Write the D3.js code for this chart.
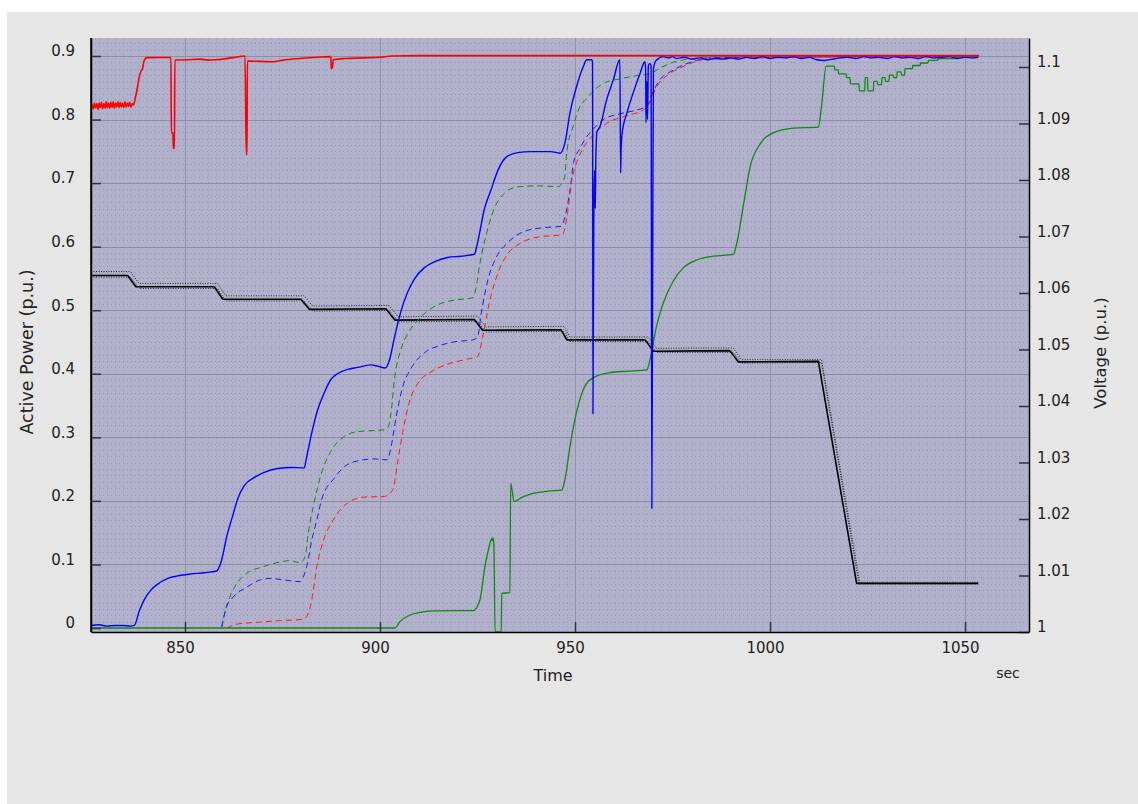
<!DOCTYPE html>
<html>
<head>
<meta charset="utf-8">
<script src="https://cdn.jsdelivr.net/npm/d3@7"></script>
<style>
  html, body { margin: 0; padding: 0; background: #ffffff; }
  svg { display: block; }
  text { font-family: "DejaVu Sans", Verdana, sans-serif; fill: #222; }
</style>
</head>
<body>
<svg id="chart" width="1138" height="804"></svg>
<script>
// ---- tick values ----
const timeTicks = [850, 900, 950, 1000, 1050];
const powerTicks = [0, 0.1, 0.2, 0.3, 0.4, 0.5, 0.6, 0.7, 0.8, 0.9];
const voltTicks = [1, 1.01, 1.02, 1.03, 1.04, 1.05, 1.06, 1.07, 1.08, 1.09, 1.1];

// ---- active power series [time (s), P (p.u.)] ----
const redSolid = [
  [825.9,0.815],[826.2,0.824],[826.5,0.817],[826.8,0.826],[827.1,0.818],[827.4,0.825],[827.7,0.816],
  [828.0,0.826],[828.3,0.819],[828.6,0.827],[828.9,0.817],[829.2,0.825],[829.5,0.818],[829.8,0.828],
  [830.1,0.819],[830.4,0.826],[830.7,0.818],[831.0,0.827],[831.3,0.819],[831.6,0.828],[831.9,0.818],
  [832.2,0.826],[832.5,0.820],[832.8,0.828],[833.1,0.819],[833.4,0.827],[833.7,0.820],[834.0,0.826],
  [834.3,0.819],[834.6,0.828],[834.9,0.820],[835.2,0.826],[835.5,0.821],[835.8,0.827],[836.1,0.820],
  [836.5,0.825],[836.8,0.823],[837.3,0.835],[837.8,0.850],[838.2,0.865],[838.7,0.876],[839.1,0.880],
  [839.5,0.892],[840.2,0.8974],[843.0,0.8975],[846.4,0.8976],[846.5,0.779],[846.9,0.779],[847.0,0.755],
  [847.3,0.755],[847.4,0.8937],[850,0.8937],[853.8,0.895],[856,0.8935],[858,0.894],[862.3,0.8974],
  [865.4,0.900],[865.7,0.745],[865.9,0.745],[866.0,0.892],[872.6,0.891],[875.2,0.8935],[879.5,0.896],
  [884,0.898],[887.4,0.899],[887.5,0.880],[887.8,0.882],[888.0,0.894],[891,0.896],[896,0.897],
  [900,0.898],[903,0.900],[910,0.9005],[930,0.9006],[960,0.9006],[1000,0.9005],[1053.6,0.9006]
];

const blueSolid = [
  [825.9,0.004],[828,0.005],[830,0.003],[832,0.004],[834,0.004],[836,0.003],[837.0,0.004],
  [838.3,0.027],[839.6,0.045],[841.3,0.060],[843.0,0.069],[845.6,0.078],[848.1,0.082],[851.5,0.085],
  [855,0.087],[858.1,0.0897],[859.4,0.107],[860.7,0.1437],[862.4,0.180],[863.5,0.203],[865.2,0.224],
  [867.8,0.237],[870.3,0.245],[873.8,0.251],[877.2,0.2526],[880.6,0.252],[881.0,0.263],[882.3,0.3016],
  [884.0,0.343],[885.7,0.370],[887.4,0.391],[889.1,0.400],[891.7,0.407],[894.3,0.410],[897.7,0.414],
  [899.4,0.412],[901.3,0.409],[902.4,0.421],[903.7,0.457],[905.4,0.499],[907.1,0.5285],[908.8,0.549],
  [911.4,0.567],[913.9,0.576],[917.3,0.583],[920.8,0.585],[924.2,0.588],[925.0,0.606],[926.8,0.660],
  [928.5,0.690],[930.2,0.7196],[932.3,0.7405],[935.3,0.748],[938.7,0.7495],[943.8,0.7495],[946.2,0.747],
  [947.4,0.763],[948.7,0.810],[950.4,0.852],[952.1,0.883],[953.0,0.894],[954.3,0.894],[954.5,0.89],
  [954.6,0.337],[954.8,0.62],[955.0,0.72],[955.2,0.66],[955.3,0.72],[955.6,0.78],[956.4,0.789],
  [958.1,0.831],[959.8,0.862],[961.5,0.894],[961.7,0.716],[961.8,0.75],[962.1,0.78],[963.3,0.810],
  [964.9,0.842],[966.7,0.873],[967.9,0.891],[968.1,0.88],[968.2,0.795],[968.4,0.86],[968.6,0.80],
  [968.8,0.885],[969.2,0.888],[969.5,0.885],[969.7,0.188],[969.9,0.55],[970.1,0.88],[970.8,0.893],
  [972.6,0.899],[974,0.897],[975,0.899],[976,0.896],[978,0.898],[980,0.895],[982,0.897],[984,0.894],
  [986,0.896],[988,0.895],[990,0.897],[992,0.895],[994,0.898],[996,0.896],[998,0.899],[1000,0.896],
  [1002,0.898],[1004,0.897],[1006,0.899],[1008,0.896],[1010,0.898],[1012,0.894],[1014,0.893],
  [1016,0.895],[1018,0.897],[1020,0.898],[1022,0.896],[1024,0.899],[1026,0.897],[1028,0.898],
  [1030,0.896],[1032,0.899],[1034,0.897],[1036,0.898],[1038,0.896],[1040,0.899],[1042,0.897],
  [1044,0.898],[1046,0.899],[1048,0.896],[1050,0.898],[1052,0.897],[1053.4,0.898]
];

const greenSolid = [
  [825.9,0.0],[903.8,0.0],[905.1,0.010],[907.7,0.0205],[910.3,0.0247],[913.7,0.0268],[918,0.0272],
  [923.9,0.0273],[925.6,0.044],[926.9,0.0965],[928.2,0.133],[928.6,0.141],[928.8,0.137],[929.0,0.142],
  [929.2,0.130],[929.5,-0.006],[931.1,-0.006],[931.2,0.0546],[933.3,0.0556],[933.5,0.2277],[934.4,0.199],
  [936.5,0.206],[939.3,0.212],[943.6,0.2156],[946.6,0.217],[947.4,0.233],[948.7,0.285],[950.4,0.34],
  [952.1,0.375],[954.7,0.394],[959.0,0.402],[963.2,0.404],[968.4,0.406],[969.2,0.421],[970.9,0.475],
  [972.6,0.511],[975.2,0.546],[977.8,0.567],[981.2,0.579],[985.5,0.585],[990.6,0.588],[991.5,0.606],
  [993.2,0.666],[994.9,0.7256],[997.4,0.761],[1000.8,0.779],[1006.0,0.7865],[1012.4,0.788],[1013.2,0.821],
  [1014.4,0.884],[1016.5,0.884],[1016.6,0.878],[1017.5,0.878],[1017.6,0.872],[1019.5,0.872],[1019.6,0.866],
  [1020.5,0.866],[1020.6,0.856],[1022.8,0.856],[1022.9,0.845],[1024.3,0.845],[1024.4,0.866],[1025.0,0.866],
  [1025.1,0.845],[1026.5,0.845],[1026.6,0.860],[1027.5,0.860],[1027.6,0.855],[1028.6,0.855],[1028.7,0.866],
  [1029.5,0.866],[1029.6,0.860],[1030.5,0.860],[1030.6,0.870],[1031.6,0.870],[1031.7,0.866],[1032.5,0.866],
  [1032.6,0.875],[1033.6,0.875],[1033.7,0.870],[1034.5,0.870],[1034.6,0.880],[1036.5,0.880],[1036.6,0.885],
  [1038.5,0.885],[1038.6,0.889],[1040.5,0.889],[1040.6,0.893],[1043,0.893],[1043.1,0.896],[1047,0.896],
  [1047.1,0.898],[1053.4,0.899]
];

const greenDashed = [
  [859.4,0.0],[860.4,0.030],[861.5,0.049],[863.3,0.070],[865.8,0.086],[870.1,0.0965],[874.4,0.104],
  [876.9,0.106],[879.5,0.1027],[880.8,0.112],[881.6,0.149],[882.9,0.191],[884.9,0.242],[887.4,0.278],
  [890.9,0.3016],[894.3,0.309],[901.1,0.312],[902.0,0.315],[902.8,0.337],[903.7,0.391],[905.4,0.439],
  [907.1,0.463],[909.2,0.481],[912.2,0.4987],[915.6,0.5106],[919.9,0.5166],[923.8,0.5196],[924.6,0.5345],
  [925.5,0.570],[927.2,0.618],[929.3,0.660],[931.9,0.684],[935.3,0.694],[940.4,0.6957],[945.6,0.6945],
  [947.3,0.708],[947.9,0.749],[949.6,0.791],[951.3,0.821],[953.0,0.833],[954.7,0.845],[957.3,0.857],
  [961.5,0.864],[965.8,0.869],[969.2,0.872],[971.8,0.881],[975.2,0.890],[980.3,0.896],[985,0.8985],
  [1053.4,0.8995]
];

const blueDashed = [
  [859.4,0.002],[860.7,0.0335],[862.4,0.049],[865.8,0.064],[869.2,0.0755],[871.8,0.078],[875.5,0.0755],
  [879.5,0.073],[880.3,0.080],[881.2,0.0965],[882.5,0.138],[883.8,0.170],[885.0,0.2014],[888.3,0.236],
  [890.9,0.254],[894.3,0.263],[898.5,0.266],[901.9,0.2645],[902.8,0.284],[904.1,0.331],[905.8,0.379],
  [908.0,0.409],[911.4,0.433],[915.6,0.445],[919.9,0.451],[923.3,0.4527],[925.0,0.457],[925.9,0.493],
  [927.6,0.546],[929.7,0.582],[932.7,0.606],[937.0,0.624],[942.1,0.630],[946.4,0.632],[947.7,0.654],
  [949.0,0.702],[949.6,0.732],[951.3,0.755],[953.0,0.773],[954.7,0.785],[957.3,0.800],[961.5,0.809],
  [965.8,0.815],[968.4,0.821],[970.1,0.845],[971.8,0.863],[974.4,0.875],[977.8,0.886],[981.2,0.893],
  [985.5,0.8976],[1053.4,0.899]
];

const redDashed = [
  [860.7,0.0],[863.3,0.006],[868.6,0.009],[874.4,0.0115],[880.3,0.0137],[881.2,0.018],[882.5,0.044],
  [883.8,0.0965],[885.5,0.138],[888.0,0.170],[891.5,0.196],[896.0,0.206],[901.1,0.207],[903.3,0.218],
  [904.5,0.26],[905.8,0.3075],[907.5,0.355],[909.7,0.385],[913.1,0.403],[917.3,0.415],[921.6,0.422],
  [925.0,0.427],[926.3,0.457],[928.0,0.511],[930.2,0.558],[932.7,0.588],[936.2,0.606],[940.4,0.615],
  [946.8,0.619],[948.1,0.654],[949.1,0.702],[950.4,0.732],[952.1,0.755],[954.7,0.776],[958.1,0.794],
  [963.2,0.806],[967.5,0.815],[969.2,0.827],[970.9,0.851],[973.5,0.869],[976.9,0.881],[980.3,0.890],
  [984.6,0.896],[1053.4,0.8995]
];

// ---- voltage series [time (s), V (p.u.)] ----
const voltage = [
  [825.9,1.0631],[835.3,1.0631],[837.4,1.0611],[857.5,1.0611],[859.7,1.0589],[879.7,1.0589],
  [881.9,1.0571],[901.5,1.0572],[903.8,1.0552],[924.2,1.0553],[926.3,1.0534],[946.4,1.0535],
  [947.9,1.0517],[968.0,1.0517],[970.1,1.0497],[989.7,1.0498],[991.9,1.0478],[1012.4,1.0479],
  [1022.2,1.0086],[1053.4,1.0086]
];
const voltageUpper = [
  [825.9,1.0638],[836.0,1.0638],[838.2,1.0617],[858.3,1.0617],[860.5,1.0595],[880.5,1.0595],
  [882.7,1.0577],[902.3,1.0578],[904.6,1.0558],[925.0,1.0559],[927.1,1.0540],[947.2,1.0541],
  [948.7,1.0522],[968.8,1.0522],[970.9,1.0502],[990.5,1.0503],[992.7,1.0482],[1013.2,1.0482],
  [1023.0,1.0088],[1053.4,1.0088]
];
const voltageLower = [
  [825.9,1.0628],[836.0,1.0628],[838.2,1.0608],[858.3,1.0608],[860.5,1.0586],[880.5,1.0586],
  [882.7,1.0568],[902.3,1.0569],[904.6,1.0549],[925.0,1.0550],[927.1,1.0531],[947.2,1.0532],
  [948.7,1.0514],[968.8,1.0514],[970.9,1.0495],[990.5,1.0495],[992.7,1.0476],[1013.2,1.0477],
  [1022.8,1.0085],[1053.4,1.0085]
];

// ---- layout ----
const svg = d3.select("#chart");
const plot = { left: 91, right: 1029, top: 38, bottom: 632 };

svg.append("rect").attr("x", 7).attr("y", 12).attr("width", 1131).attr("height", 792).attr("fill", "#e6e6e6");

const x = d3.scaleLinear().domain([825.9, 1066.4]).range([plot.left, plot.right]);
const yP = d3.scaleLinear().domain([-0.0063, 0.9283]).range([plot.bottom, plot.top]);
const yV = d3.scaleLinear().domain([1.0, 1.10513]).range([plot.bottom, plot.top]);

svg.append("rect")
  .attr("x", plot.left).attr("y", plot.top)
  .attr("width", plot.right - plot.left).attr("height", plot.bottom - plot.top)
  .attr("fill", "#b1b1cb");

// fine dotted grid
const grid = svg.append("g").attr("class", "grid");
const minorP = d3.range(1, 93).map(i => i / 100).filter(v => Math.round(v * 100) % 10 !== 0);
grid.selectAll("line.minor-h").data(minorP).join("line")
  .attr("x1", plot.left).attr("x2", plot.right)
  .attr("y1", d => Math.round(yP(d)) + 0.5).attr("y2", d => Math.round(yP(d)) + 0.5)
  .attr("stroke", "#9595b3").attr("stroke-width", 1).attr("stroke-dasharray", "1,3");
const minorT = d3.range(828, 1066, 2).filter(t => t % 50 !== 0);
grid.selectAll("line.minor-v").data(minorT).join("line")
  .attr("y1", plot.top).attr("y2", plot.bottom)
  .attr("x1", d => Math.round(x(d)) + 0.5).attr("x2", d => Math.round(x(d)) + 0.5)
  .attr("stroke", "#9b9bb8").attr("stroke-width", 1).attr("stroke-dasharray", "1,3");

// major grid
grid.selectAll("line.major-h").data(powerTicks.filter(v => v > 0)).join("line")
  .attr("x1", plot.left).attr("x2", plot.right)
  .attr("y1", d => Math.round(yP(d)) + 0.5).attr("y2", d => Math.round(yP(d)) + 0.5)
  .attr("stroke", "#8c8ca6").attr("stroke-width", 1);
grid.selectAll("line.major-v").data(timeTicks).join("line")
  .attr("y1", plot.top).attr("y2", plot.bottom)
  .attr("x1", d => Math.round(x(d)) + 0.5).attr("x2", d => Math.round(x(d)) + 0.5)
  .attr("stroke", "#9292ac").attr("stroke-width", 1);

// ---- series ----
svg.append("clipPath").attr("id", "plotclip")
  .append("rect").attr("x", plot.left).attr("y", plot.top)
  .attr("width", plot.right - plot.left).attr("height", plot.bottom - plot.top);
const lines = svg.append("g").attr("clip-path", "url(#plotclip)");

const lineP = d3.line().x(d => x(d[0])).y(d => yP(d[1])).curve(d3.curveMonotoneX);
const lineV = d3.line().x(d => x(d[0])).y(d => yV(d[1]));

function draw(data, gen, color, width, dash) {
  lines.append("path").datum(data)
    .attr("d", gen).attr("fill", "none")
    .attr("stroke", color).attr("stroke-width", width)
    .attr("stroke-linejoin", "round")
    .attr("stroke-dasharray", dash || null);
}

draw(voltageUpper, lineV, "#1a1a1a", 0.9, "1,1.5");
draw(voltageLower, lineV, "#1a1a1a", 0.9, "1,1.5");
draw(voltage, lineV, "#000000", 1.6);
draw(greenDashed, lineP, "#0f8a0f", 1, "6,4");
draw(blueDashed, lineP, "#1a1aff", 1, "6,4");
draw(redDashed, lineP, "#ff1a1a", 1, "6,4");
draw(greenSolid, lineP, "#0f8a0f", 1.3);
draw(blueSolid, lineP, "#0000ff", 1.4);
draw(redSolid, lineP, "#ff0000", 1.6);

// ---- axes ----
const fmtT = d3.format("d");
const fmtP = d3.format(".1~f");
const fmtV = d3.format(".2~f");

const axLeft = svg.append("g").attr("transform", `translate(${plot.left},0)`)
  .call(d3.axisLeft(yP).tickValues(powerTicks).tickFormat(fmtP).tickSizeInner(-10).tickSizeOuter(0).tickPadding(16));
const axRight = svg.append("g").attr("transform", `translate(${plot.right},0)`)
  .call(d3.axisRight(yV).tickValues(voltTicks).tickFormat(fmtV).tickSizeInner(-10).tickSizeOuter(0).tickPadding(8));
const axBottom = svg.append("g").attr("transform", `translate(0,${plot.bottom})`)
  .call(d3.axisBottom(x).tickValues(timeTicks).tickFormat(fmtT).tickSizeInner(-10).tickSizeOuter(0).tickPadding(10));

[axLeft, axRight, axBottom].forEach(ax => {
  ax.select(".domain").attr("stroke", "#000").attr("stroke-width", 1.5);
  ax.selectAll(".tick line").attr("stroke", "#333").attr("stroke-width", 1.5);
  ax.selectAll(".tick text").attr("font-size", 15).attr("fill", "#222")
    .style("font-family", "'DejaVu Sans', Verdana, sans-serif");
});
axLeft.selectAll(".tick text").attr("y", -5);
axRight.selectAll(".tick text").attr("y", -5);
axBottom.selectAll(".tick text").attr("x", -5);
svg.append("line").attr("x1", plot.left).attr("x2", plot.left).attr("y1", plot.top).attr("y2", plot.bottom)
  .attr("stroke", "#000").attr("stroke-width", 1.5);

// ---- titles ----
svg.append("text").attr("transform", "translate(33,352) rotate(-90)")
  .attr("text-anchor", "middle").attr("font-size", 17.5).text("Active Power (p.u.)");
svg.append("text").attr("transform", "translate(1106,353) rotate(-90)")
  .attr("text-anchor", "middle").attr("font-size", 16.5).text("Voltage (p.u.)");
svg.append("text").attr("x", 553).attr("y", 681)
  .attr("text-anchor", "middle").attr("font-size", 16).text("Time");
svg.append("text").attr("x", 1008).attr("y", 678)
  .attr("text-anchor", "middle").attr("font-size", 14).text("sec");
</script>
</body>
</html>
